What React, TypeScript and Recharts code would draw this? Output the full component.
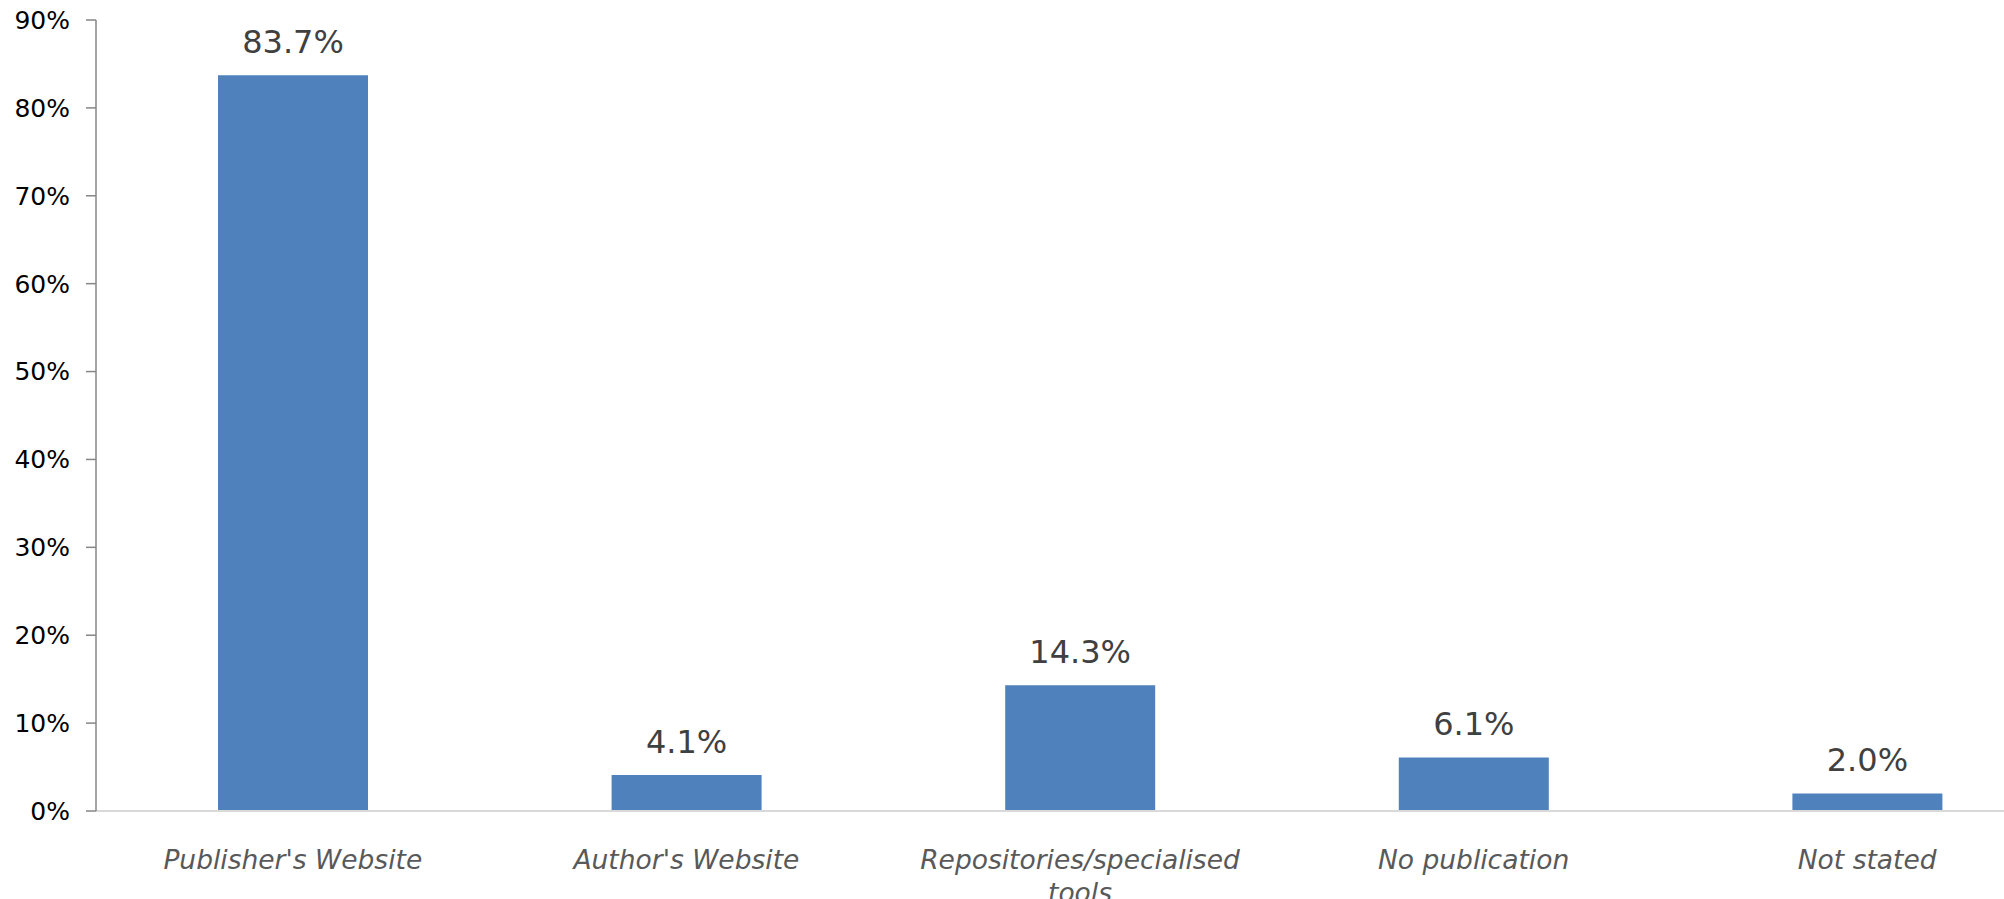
import React from 'react';
import { BarChart, Bar, XAxis, YAxis, LabelList } from 'recharts';

const categories = [
  "Publisher's Website",
  "Author's Website",
  'Repositories/specialised tools',
  'No publication',
  'Not stated',
];
const shares = [83.7, 4.1, 14.3, 6.1, 2.0];
const yTicks = [0, 10, 20, 30, 40, 50, 60, 70, 80, 90];

const data = categories.map((name, i) => ({ name, value: shares[i] }));

const FONT = '"DejaVu Sans", Verdana, sans-serif';

// wrap long category names onto a second line
const splitLabel = (label: string) => {
  if (label.length <= 22) return [label];
  const cut = label.lastIndexOf(' ');
  return [label.slice(0, cut), label.slice(cut + 1)];
};

const CategoryTick = ({ x, y, payload }: any) => {
  const lines = splitLabel(String(payload.value));
  return (
    <text
      x={x}
      y={y + 50}
      textAnchor="middle"
      fill="#595959"
      fontSize={26.5}
      fontStyle="italic"
      fontFamily={FONT}
    >
      {lines.map((line, i) => (
        <tspan key={i} x={x} dy={i === 0 ? 0 : 33}>
          {line}
        </tspan>
      ))}
    </text>
  );
};

const App: React.FC = () => {
  return (
    <div
      style={{
        position: 'fixed',
        left: 0,
        top: 0,
        width: 2004,
        height: 899,
        overflow: 'hidden',
        background: '#ffffff',
      }}
    >
      <BarChart
        width={2064}
        height={899}
        data={data}
        margin={{ top: 20, right: 0, bottom: 0, left: 0 }}
      >
        <XAxis
          dataKey="name"
          height={88}
          axisLine={{ stroke: '#d9d9d9', strokeWidth: 2 }}
          tickLine={false}
          tick={<CategoryTick />}
          interval={0}
        />
        <YAxis
          width={96}
          domain={[0, 90]}
          ticks={yTicks}
          interval={0}
          tickFormatter={(v) => `${v}%`}
          axisLine={{ stroke: '#868686', strokeWidth: 1.5 }}
          tickLine={{ stroke: '#868686', strokeWidth: 1.5 }}
          tickSize={10}
          tickMargin={16}
          tick={{ fill: '#000000', fontSize: 25, fontFamily: FONT }}
        />
        <Bar dataKey="value" fill="#4f81bd" barSize={150} isAnimationActive={false}>
          <LabelList
            dataKey="value"
            position="top"
            offset={22}
            formatter={(v: any) => `${Number(v).toFixed(1)}%`}
            fill="#404040"
            fontSize={32}
            fontFamily={FONT}
          />
        </Bar>
      </BarChart>
    </div>
  );
};

export default App;
